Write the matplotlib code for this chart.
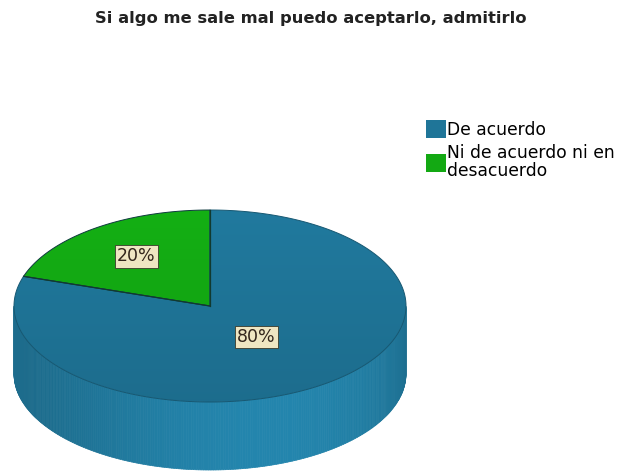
import numpy as np
import matplotlib
matplotlib.use("Agg")
import matplotlib.pyplot as plt
from matplotlib.patches import Polygon, Patch
from matplotlib.collections import PolyCollection
from matplotlib.colors import to_rgb

title = "Si algo me sale mal puedo aceptarlo, admitirlo"
categories = ["De acuerdo", "Ni de acuerdo ni en\ndesacuerdo"]
values = [80, 20]
labels = ["80%", "20%"]
colors = ["#1f7598", "#13a913"]

W, H = 617, 474
fig = plt.figure(figsize=(W / 100, H / 100), dpi=100)
ax = fig.add_axes([0, 0, 1, 1])
ax.set_xlim(0, W)
ax.set_ylim(H, 0)
ax.axis("off")

# pie geometry (screen pixels, y downward)
cx, cy, rx, ry, depth = 210, 306, 196, 96, 68
start = 90.0


def pt(t_deg, r=1.0, dz=0.0):
    t = np.radians(t_deg)
    return cx + r * rx * np.cos(t), cy - r * ry * np.sin(t) + dz


# wedge angles, clockwise from 12 o'clock
total = float(sum(values))
spans = [v / total * 360.0 for v in values]
bounds = []
a = start
for s in spans:
    bounds.append((a, a - s))
    a -= s

# side wall (front half of the cylinder), with horizontal shading
side_polys, side_cols = [], []
for (a0, a1), col in zip(bounds, colors):
    lo, hi = min(a0, a1), max(a0, a1)
    ts = np.linspace(lo, hi, 400)
    base = np.array(to_rgb(col))
    for t0, t1 in zip(ts[:-1], ts[1:]):
        tm = 0.5 * (t0 + t1)
        if np.sin(np.radians(tm)) > 0:
            continue
        x0, y0 = pt(t0)
        x1, y1 = pt(t1)
        side_polys.append([(x0, y0), (x1, y1), (x1, y1 + depth), (x0, y0 + depth)])
        c = np.cos(np.radians(tm) - 0.3)
        shade = 1.14 - 0.22 * c ** 2
        side_cols.append(np.clip(base * shade, 0, 1))
ax.add_collection(PolyCollection(side_polys, facecolors=side_cols,
                                 edgecolors=side_cols, linewidths=0.5))

# top faces, lightly shaded from back to front
grad = np.linspace(1.04, 0.93, 256)[:, None]
for (a0, a1), col in zip(bounds, colors):
    ts = np.linspace(a0, a1, 300)
    pts = [(cx, cy)] + [pt(t) for t in ts]
    base = np.array(to_rgb(col))
    edge = "#0f3a3f" if col != colors[0] else tuple(base * 0.75)
    poly = Polygon(pts, closed=True, facecolor="none",
                   edgecolor=edge, linewidth=0.7, zorder=4)
    ax.add_patch(poly)
    img = np.clip(grad[:, :, None] * base[None, None, :], 0, 1)
    img = np.repeat(img, 2, axis=1)
    im = ax.imshow(img, extent=(cx - rx, cx + rx, cy + ry, cy - ry),
                   aspect="auto", zorder=3, interpolation="bilinear")
    clip = Polygon(pts, closed=True, transform=ax.transData)
    im.set_clip_path(clip)
ax.set_xlim(0, W)
ax.set_ylim(H, 0)

# boundary line between the wedges
for a0, _ in bounds:
    x, y = pt(a0)
    ax.plot([cx, x], [cy, y], color="#123a30", linewidth=0.9, zorder=5)

# value labels
label_r = [0.40, 0.64]
for (a0, a1), lab, r in zip(bounds, labels, label_r):
    x, y = pt(0.5 * (a0 + a1), r)
    ax.text(x, y, lab, ha="center", va="center", fontsize=12.5,
            color="#33261c", zorder=6,
            bbox=dict(boxstyle="square,pad=0.13", facecolor="#efe6c2",
                      edgecolor="#3a3a2a", linewidth=0.6))

# title
fig.text(0.504, 1 - 19 / H, title, ha="center", va="center",
         fontsize=11.8, fontweight="bold", color="#222222")

# legend
handles = [Patch(facecolor=c, edgecolor="none") for c in colors]
leg = fig.legend(handles, categories, loc="upper left",
                 bbox_to_anchor=(426 / W, 1 - 120 / H), frameon=False,
                 fontsize=12.3, handlelength=1.15, handleheight=1.25,
                 handletextpad=0.1, borderpad=0, labelspacing=0.3,
                 borderaxespad=0)
for t in leg.get_texts():
    t.set_linespacing(1.0)

fig.savefig("out.png", dpi=100)
